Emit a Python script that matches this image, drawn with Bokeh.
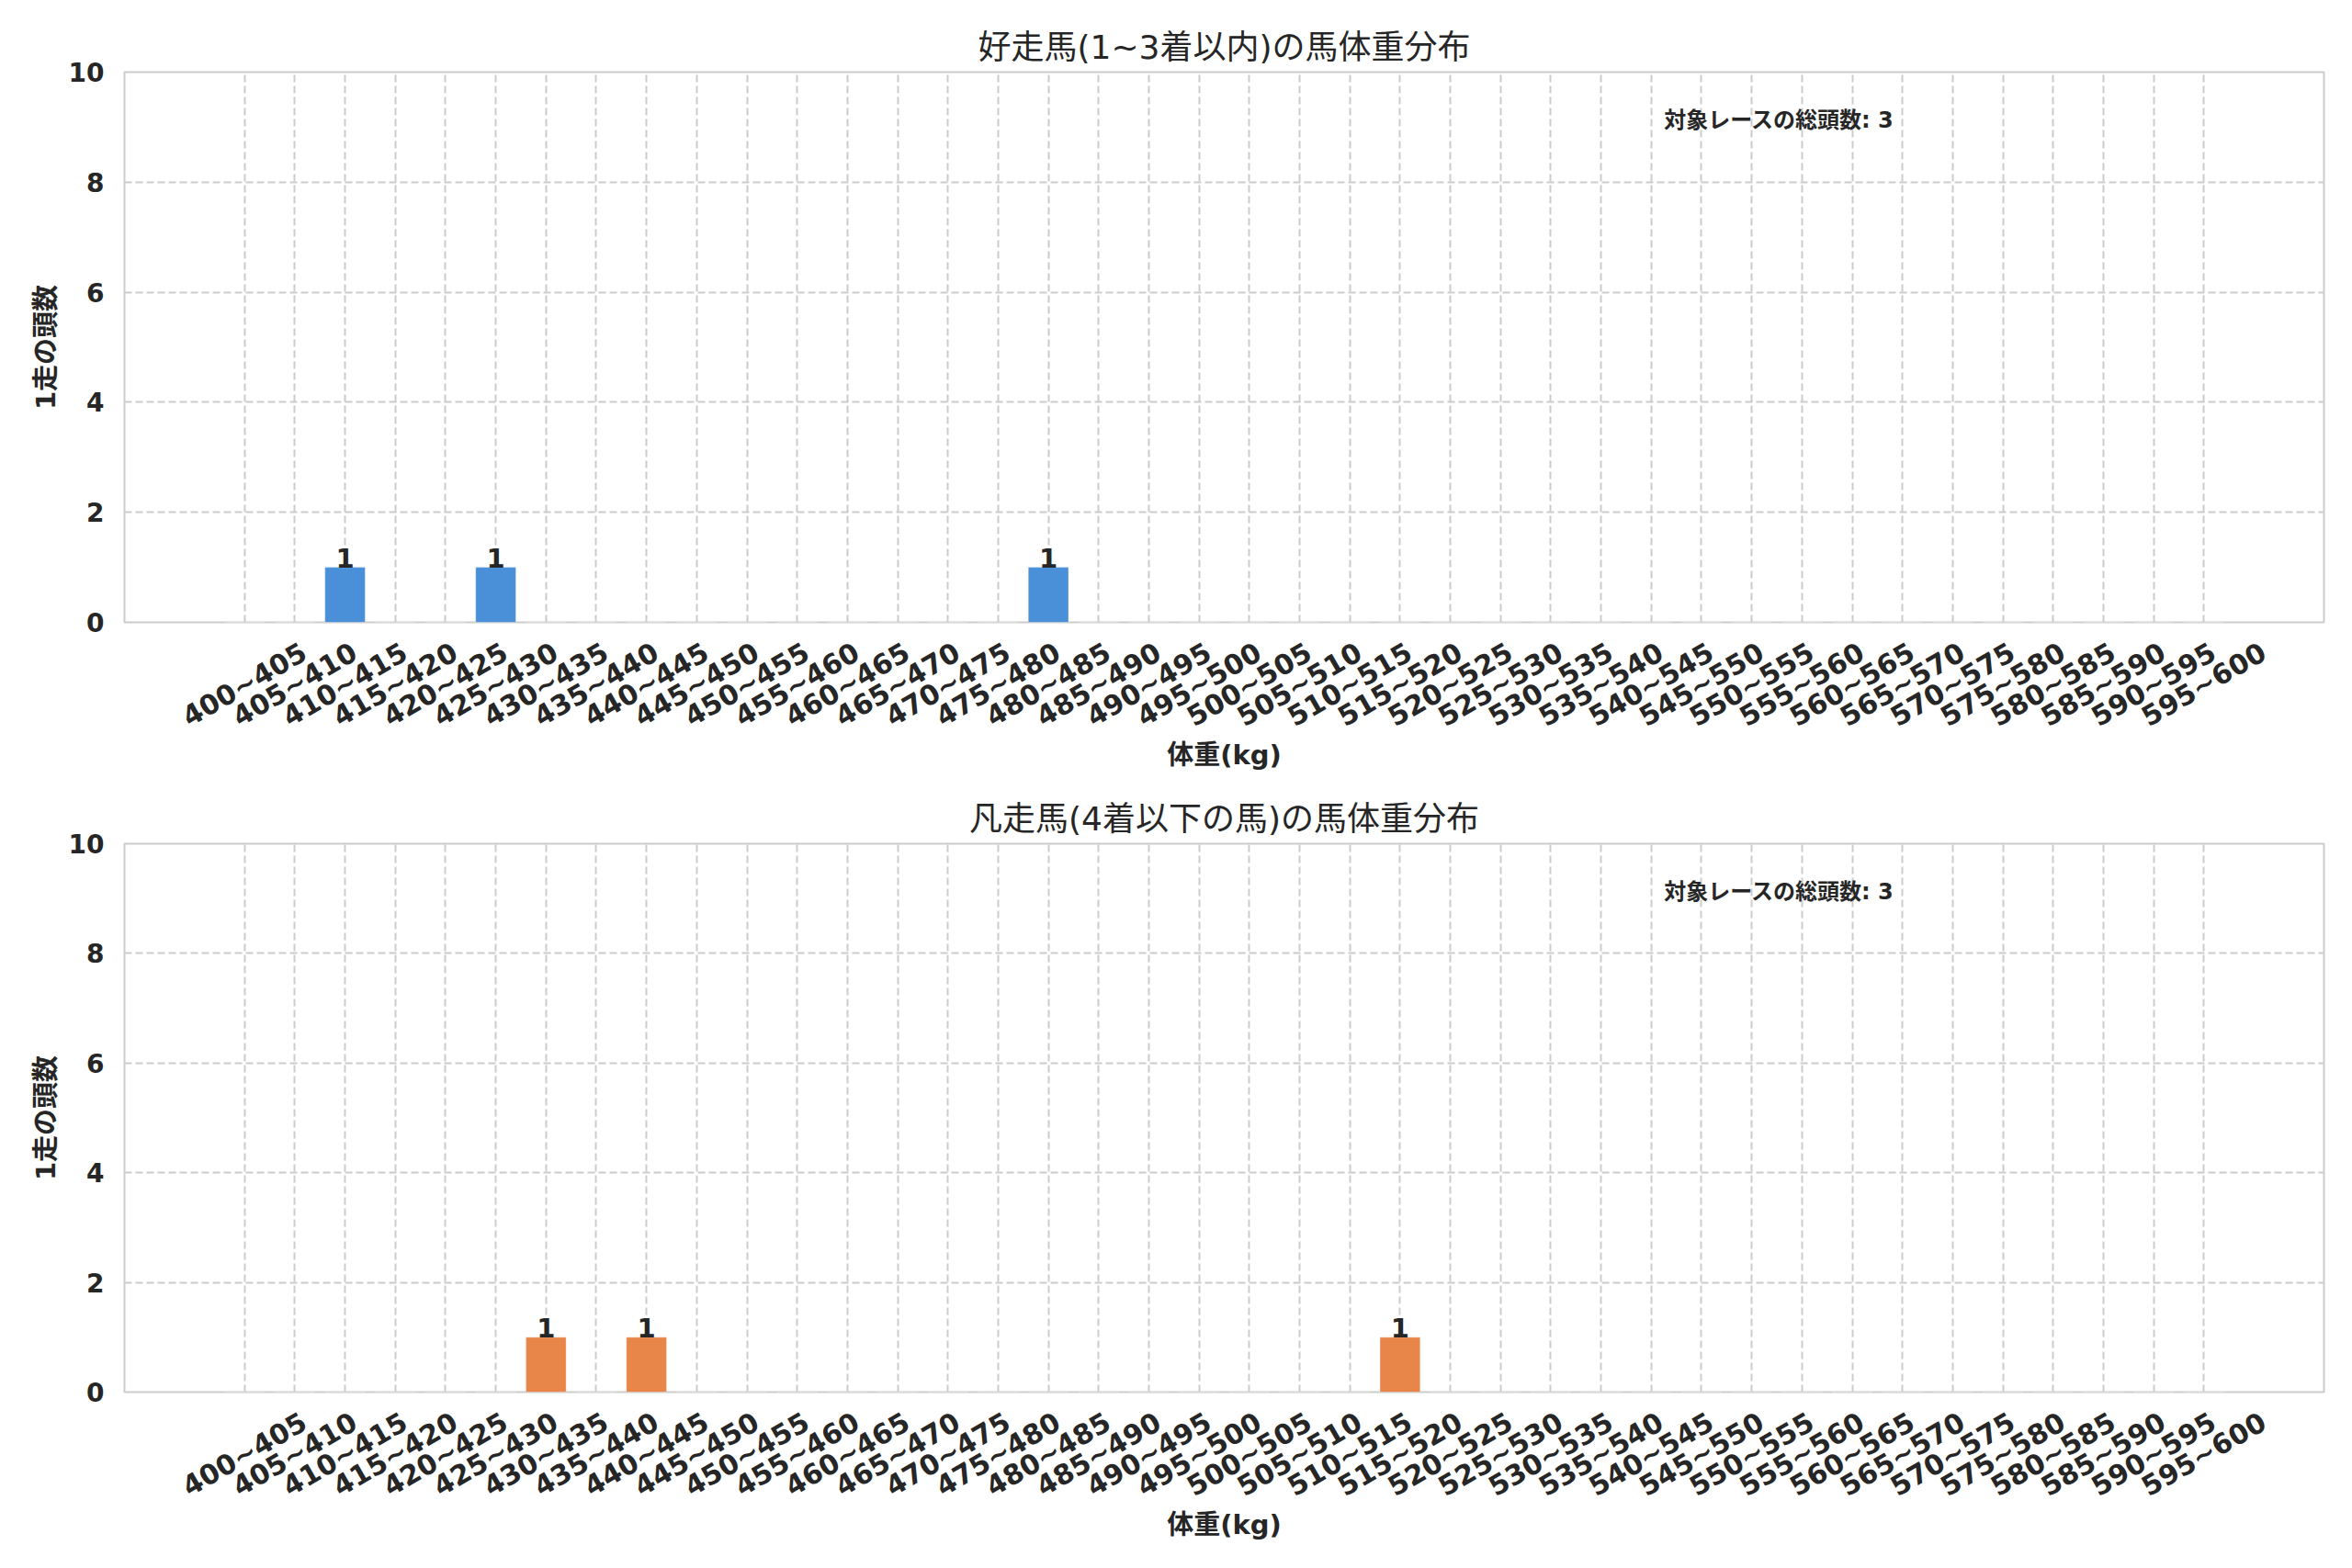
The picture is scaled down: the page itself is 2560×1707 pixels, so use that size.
import math
from bokeh.plotting import figure
from bokeh.models import ColumnDataSource, Range1d, FixedTicker, Label, LinearAxis
from bokeh.layouts import column
from bokeh.core.properties import value
from bokeh.embed import file_html
from bokeh.resources import INLINE

# ---------------- data ----------------
weight_bins = [
    "400~405", "405~410", "410~415", "415~420", "420~425", "425~430", "430~435", "435~440",
    "440~445", "445~450", "450~455", "455~460", "460~465", "465~470", "470~475", "475~480",
    "480~485", "485~490", "490~495", "495~500", "500~505", "505~510", "510~515", "515~520",
    "520~525", "525~530", "530~535", "535~540", "540~545", "545~550", "550~555", "555~560",
    "560~565", "565~570", "570~575", "575~580", "580~585", "585~590", "590~595", "595~600",
]
top_counts = [0, 0, 1, 0, 0, 1, 0, 0, 0, 0, 0, 0, 0, 0, 0, 0, 1, 0, 0, 0,
              0, 0, 0, 0, 0, 0, 0, 0, 0, 0, 0, 0, 0, 0, 0, 0, 0, 0, 0, 0]
bottom_counts = [0, 0, 0, 0, 0, 0, 1, 0, 1, 0, 0, 0, 0, 0, 0, 0, 0, 0, 0, 0,
                 0, 0, 0, 1, 0, 0, 0, 0, 0, 0, 0, 0, 0, 0, 0, 0, 0, 0, 0, 0]
y_ticks = [0, 2, 4, 6, 8, 10]
titles = ["好走馬(1~3着以内)の馬体重分布", "凡走馬(4着以下の馬)の馬体重分布"]
x_label = "体重(kg)"
y_label = "1走の頭数"
note_prefix = "対象レースの総頭数"
colors = ["#4a90d9", "#e8864a"]

FONT = "'DejaVu Sans', 'Noto Sans CJK JP'"
TXT = "#262626"
GRIDC = "#cccccc"
FRAME_W = 2394
FRAME_H = 599
LABEL_SHIFT_PX = 65   # moves right-anchored rotated labels so they sit centred on ticks


def make_fig(title, counts, color, top_border, height):
    n = len(weight_bins)
    bw = 0.8
    span = (n - 1) + bw
    xs = -bw / 2 - 0.05 * span
    xe = (n - 1) + bw / 2 + 0.05 * span
    p = figure(width=2544, height=height, output_backend="svg", toolbar_location=None,
               x_range=Range1d(xs, xe), y_range=Range1d(0, 10),
               min_border_left=135, min_border_right=2544 - 135 - FRAME_W,
               min_border_top=top_border, min_border_bottom=height - top_border - FRAME_H)
    p.background_fill_color = "white"
    p.border_fill_color = "white"
    p.outline_line_color = GRIDC
    p.outline_line_width = 2

    idx = list(range(n))
    src = ColumnDataSource(dict(x=idx, top=counts))
    p.vbar(x="x", top="top", width=bw, source=src, fill_color=color,
           line_color="white", line_alpha=0.35, line_width=1)

    # value labels on non-zero bars
    nz = [i for i, c in enumerate(counts) if c > 0]
    vsrc = ColumnDataSource(dict(x=nz, y=[counts[i] for i in nz],
                                 t=[str(counts[i]) for i in nz]))
    p.text(x="x", y="y", text="t", source=vsrc, text_align="center",
           text_baseline="bottom",
           text_font=value(FONT), text_font_style="bold",
           text_font_size="29px", text_color=TXT)

    # grids
    p.xgrid.ticker = FixedTicker(ticks=idx)
    p.ygrid.ticker = FixedTicker(ticks=y_ticks)
    for g in (p.xgrid, p.ygrid):
        g.grid_line_color = GRIDC
        g.grid_line_width = 2
        g.grid_line_dash = "8 4"

    # hide default x axis; categories go on an axis tied to a shifted range
    p.xaxis.visible = False
    shift = LABEL_SHIFT_PX * (xe - xs) / FRAME_W
    p.extra_x_ranges = {"lab": Range1d(xs - shift, xe - shift)}
    xax = LinearAxis(x_range_name="lab", ticker=FixedTicker(ticks=idx),
                     major_label_overrides={i: lab for i, lab in enumerate(weight_bins)},
                     major_label_orientation=math.pi / 6,
                     major_label_standoff=30,
                     axis_label=x_label, axis_label_standoff=-11)
    p.add_layout(xax, "below")

    p.yaxis.ticker = FixedTicker(ticks=y_ticks)
    for ax in (xax, p.yaxis[0]):
        ax.axis_line_color = None
        ax.major_tick_line_color = None
        ax.minor_tick_line_color = None
        ax.major_tick_out = 0
        ax.major_tick_in = 0
        ax.major_label_text_font = FONT
        ax.major_label_text_font_style = "bold"
        ax.major_label_text_font_size = "28px"
        ax.major_label_text_color = TXT
        ax.axis_label_text_font = FONT
        ax.axis_label_text_font_style = "bold"
        ax.axis_label_text_font_size = "29px"
        ax.axis_label_text_color = TXT
    xax.major_label_text_font_size = "30px"
    p.yaxis.major_label_standoff = 22
    p.yaxis.axis_label = y_label
    p.yaxis.axis_label_standoff = 5

    # annotation
    total = sum(counts)
    p.add_layout(Label(x=xs + 0.7 * (xe - xs), y=9.12, text=f"{note_prefix}: {total}",
                       text_align="left", text_baseline="middle",
                       text_font=FONT, text_font_style="bold",
                       text_font_size="24px", text_color=TXT))

    p.title.text = title
    p.title.align = "center"
    p.title.text_font = FONT
    p.title.text_font_style = "normal"
    p.title.text_font_size = "36px"
    p.title.text_color = TXT
    p.title.standoff = 14
    return p


p1 = make_fig(titles[0], top_counts, colors[0], 78, 861)
p2 = make_fig(titles[1], bottom_counts, colors[1], 55, 830)
layout = column(p1, p2, spacing=0)

open("out.html", "w").write(file_html(layout, INLINE))
